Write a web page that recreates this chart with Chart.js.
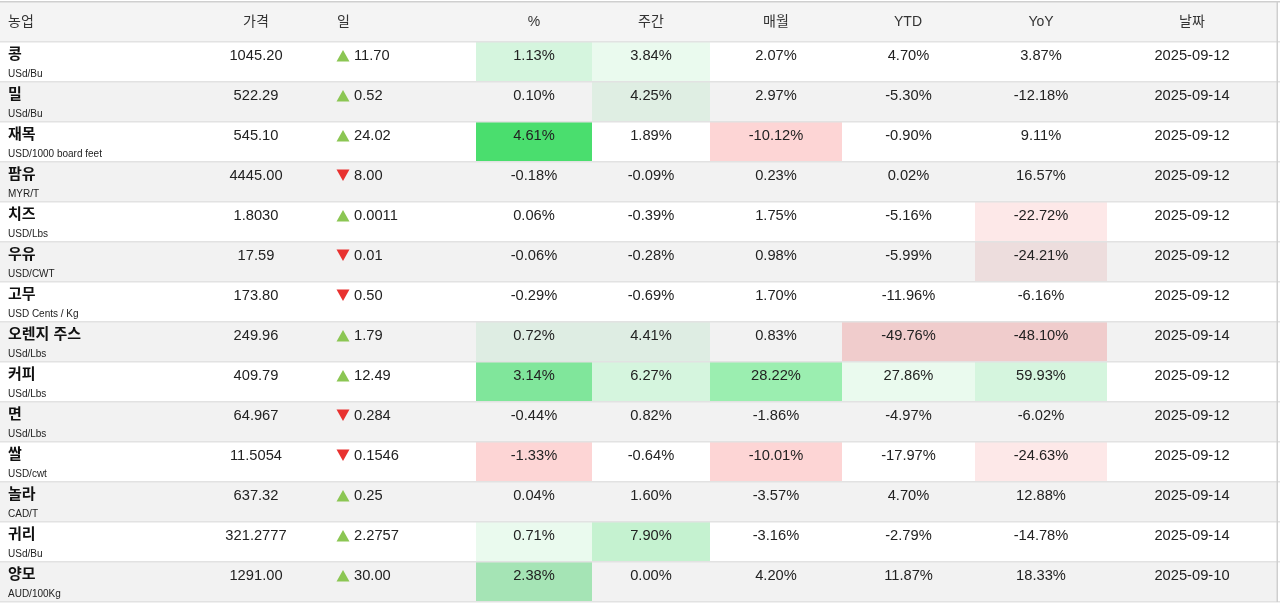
<!DOCTYPE html>
<html lang="ko">
<head>
    <meta charset="UTF-8">
    <script src="https://cdn.jsdelivr.net/npm/chart.js"></script>
    <title>농업</title>
    <style>
        body { margin: 0; background: #fff; }
        .wrap { position: relative; width: 1280px; height: 605px; }
    </style>
</head>
<body>
    <div class="wrap"><canvas id="tbl"></canvas></div>
    <script>
        // Table data
        const headers = ['농업', '가격', '일', '%', '주간', '매월', 'YTD', 'YoY', '날짜'];
        const names = ['콩', '밀', '재목', '팜유', '치즈', '우유', '고무', '오렌지 주스', '커피', '면', '쌀', '놀라', '귀리', '양모'];
        const units = ['USd/Bu', 'USd/Bu', 'USD/1000 board feet', 'MYR/T', 'USD/Lbs', 'USD/CWT', 'USD Cents / Kg',
                       'USd/Lbs', 'USd/Lbs', 'USd/Lbs', 'USD/cwt', 'CAD/T', 'USd/Bu', 'AUD/100Kg'];
        const prices = ['1045.20', '522.29', '545.10', '4445.00', '1.8030', '17.59', '173.80',
                        '249.96', '409.79', '64.967', '11.5054', '637.32', '321.2777', '1291.00'];
        const changes = ['11.70', '0.52', '24.02', '-8.00', '0.0011', '-0.01', '-0.50',
                         '1.79', '12.49', '-0.284', '-0.1546', '0.25', '2.2757', '30.00'];
        const dayPct = [1.13, 0.10, 4.61, -0.18, 0.06, -0.06, -0.29, 0.72, 3.14, -0.44, -1.33, 0.04, 0.71, 2.38];
        const weekPct = [3.84, 4.25, 1.89, -0.09, -0.39, -0.28, -0.69, 4.41, 6.27, 0.82, -0.64, 1.60, 7.90, 0.00];
        const monthPct = [2.07, 2.97, -10.12, 0.23, 1.75, 0.98, 1.70, 0.83, 28.22, -1.86, -10.01, -3.57, -3.16, 4.20];
        const ytdPct = [4.70, -5.30, -0.90, 0.02, -5.16, -5.99, -11.96, -49.76, 27.86, -4.97, -17.97, 4.70, -2.79, 11.87];
        const yoyPct = [3.87, -12.18, 9.11, 16.57, -22.72, -24.21, -6.16, -48.10, 59.93, -6.02, -24.63, 12.88, -14.78, 18.33];
        const dates = ['2025-09-12', '2025-09-14', '2025-09-12', '2025-09-12', '2025-09-12', '2025-09-12', '2025-09-12',
                       '2025-09-14', '2025-09-12', '2025-09-12', '2025-09-12', '2025-09-14', '2025-09-14', '2025-09-10'];

        const pctCols = [dayPct, weekPct, monthPct, ytdPct, yoyPct];

        // Layout (x in table pixels)
        const TABLE_RIGHT = 1278;
        const COL_EDGES = [[476, 592], [592, 710], [710, 842], [842, 975], [975, 1107]];
        const HEAD_X = [[8, 'left'], [256, 'center'], [337, 'left'], [534, 'center'], [651, 'center'],
                        [776, 'center'], [908, 'center'], [1041, 'center'], [1192, 'center']];

        // Heat tints per "row,col" of the percent columns
        const CELL_TINT = {
            '0,0': '#d5f5de', '0,1': '#eafaee',
            '1,1': '#dfeee3',
            '2,0': '#4ade6e', '2,2': '#fdd5d5',
            '4,4': '#fde8e8',
            '5,4': '#eddddd',
            '7,0': '#deede3', '7,1': '#deede3', '7,3': '#f0cccc', '7,4': '#f0cccc',
            '8,0': '#80e69b', '8,1': '#d5f5de', '8,2': '#9beeb0', '8,3': '#eafaee', '8,4': '#d5f5de',
            '10,0': '#fdd5d5', '10,2': '#fdd5d5', '10,4': '#fde8e8',
            '12,0': '#eafaee', '12,1': '#c5f2d0',
            '13,0': '#a5e4b5'
        };

        const FONT = "Arial, 'Liberation Sans', 'Noto Sans CJK KR', sans-serif";
        const labels = ['header'].concat(names);

        // Row backgrounds
        const rowBg = {
            data: labels.map(() => [0, TABLE_RIGHT]),
            backgroundColor: labels.map((_, i) => i === 0 ? '#f4f4f4' : (i % 2 === 0 ? '#f2f2f2' : '#ffffff'))
        };

        // Tinted cells, one dataset per percent column
        const tintSets = COL_EDGES.map((edge, c) => ({
            data: labels.map((_, i) => (i > 0 && CELL_TINT[(i - 1) + ',' + c]) ? edge : null),
            backgroundColor: labels.map((_, i) => CELL_TINT[(i - 1) + ',' + c] || 'rgba(0,0,0,0)')
        }));

        const textPlugin = {
            id: 'tableText',
            afterDraw(chart) {
                const ctx = chart.ctx;
                const xs = chart.scales.x, ys = chart.scales.y;
                const px = v => xs.getPixelForValue(v);
                ctx.save();
                ctx.textBaseline = 'middle';

                // header
                const hy = ys.getPixelForValue(0) + 0.5;
                ctx.font = '14px ' + FONT;
                ctx.fillStyle = '#333';
                headers.forEach((h, k) => {
                    ctx.textAlign = HEAD_X[k][1];
                    ctx.fillText(h, px(HEAD_X[k][0]), hy);
                });

                names.forEach((name, r) => {
                    const yc = ys.getPixelForValue(r + 1);
                    // name + unit
                    ctx.textAlign = 'left';
                    ctx.fillStyle = '#111';
                    ctx.font = 'bold 15px ' + FONT;
                    ctx.fillText(name, px(8), yc - 7);
                    ctx.font = '10px ' + FONT;
                    ctx.fillStyle = '#222';
                    ctx.fillText(units[r], px(8), yc + 12.5);

                    ctx.font = '14.7px ' + FONT;
                    ctx.fillStyle = '#222';
                    const ty = yc - 6;
                    ctx.textAlign = 'center';
                    ctx.fillText(prices[r], px(256), ty);

                    // change with arrow
                    const down = changes[r].startsWith('-');
                    const x0 = px(336.5), x1 = px(349.5);
                    ctx.beginPath();
                    if (down) {
                        ctx.fillStyle = '#e8312f';
                        ctx.moveTo(x0, ty - 6.5);
                        ctx.lineTo(x1, ty - 6.5);
                        ctx.lineTo((x0 + x1) / 2, ty + 5);
                    } else {
                        ctx.fillStyle = '#8bc653';
                        ctx.moveTo(x0, ty + 5.5);
                        ctx.lineTo(x1, ty + 5.5);
                        ctx.lineTo((x0 + x1) / 2, ty - 6);
                    }
                    ctx.closePath();
                    ctx.fill();
                    ctx.fillStyle = '#222';
                    ctx.textAlign = 'left';
                    ctx.fillText(down ? changes[r].slice(1) : changes[r], px(354), ty);

                    // percent columns
                    ctx.textAlign = 'center';
                    pctCols.forEach((col, c) => {
                        const mid = (COL_EDGES[c][0] + COL_EDGES[c][1]) / 2;
                        ctx.fillText(col[r].toFixed(2) + '%', px(mid), ty);
                    });
                    ctx.fillText(dates[r], px(1192), ty);
                });

                // right border
                ctx.strokeStyle = '#cfcfcf';
                ctx.lineWidth = 1.5;
                ctx.beginPath();
                ctx.moveTo(px(TABLE_RIGHT - 0.75), chart.chartArea.top);
                ctx.lineTo(px(TABLE_RIGHT - 0.75), chart.chartArea.bottom);
                ctx.stroke();
                ctx.restore();
            }
        };

        const chart = new Chart(document.getElementById('tbl'), {
            type: 'bar',
            data: {
                labels: labels,
                datasets: tintSets.concat([rowBg]).map((d, k) => Object.assign({
                    order: k,
                    grouped: false,
                    barPercentage: 1,
                    categoryPercentage: 1,
                    borderWidth: 0,
                    borderSkipped: false,
                    inflateAmount: 0
                }, d))
            },
            options: {
                indexAxis: 'y',
                responsive: true,
                maintainAspectRatio: false,
                animation: false,
                events: [],
                layout: { padding: { top: 2, bottom: 3, left: 0, right: 0 } },
                plugins: { legend: { display: false }, tooltip: { enabled: false } },
                scales: {
                    x: { type: 'linear', min: 0, max: 1280, display: false },
                    y: {
                        type: 'category',
                        offset: true,
                        z: 1,
                        ticks: { display: false },
                        border: { display: false },
                        grid: {
                            offset: true,
                            z: 1,
                            drawTicks: false,
                            lineWidth: 1.5,
                            color: c => c.index === 0 ? '#cfcfcf' : '#e2e2e2'
                        },
                        afterFit(scale) { scale.width = 0; }
                    }
                }
            },
            plugins: [textPlugin]
        });
    </script>
</body>
</html>
